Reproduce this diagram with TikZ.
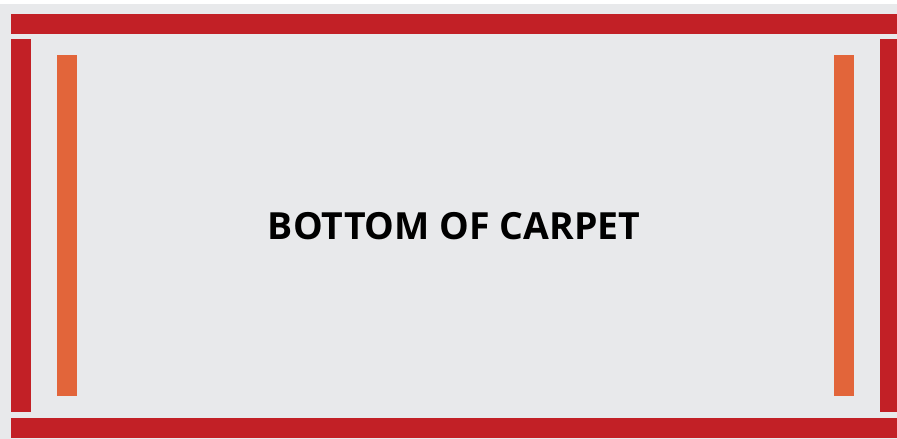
\documentclass[tikz,border=0pt]{standalone}
\usepackage{fontspec}
\setmainfont{Open Sans}
\definecolor{bg}{HTML}{E8E9EB}
\definecolor{rugred}{HTML}{C22026}
\definecolor{rugorange}{HTML}{E2653A}
\begin{document}
\begin{tikzpicture}[x=1pt,y=-1pt,
  redbar/.style={fill=rugred,draw=none},
  orangebar/.style={fill=rugorange,draw=none},
  lbl/.style={font=\bfseries\fontsize{37.4}{42}\selectfont,text=black,inner sep=0pt}]
\useasboundingbox (0,0) rectangle (897,439);
\fill[white] (0,0) rectangle (897,4);
\fill[bg] (0,4) rectangle (897,439);
\fill[redbar] (11,14) rectangle (897,34);
\fill[redbar] (11,418) rectangle (897,438);
\fill[redbar] (11,39) rectangle (31,412);
\fill[redbar] (880,39) rectangle (897,412);
\fill[orangebar] (57,55) rectangle (77,396);
\fill[orangebar] (834,55) rectangle (854,396);
\node[lbl] (title) at (454,226) {BOTTOM OF CARPET};
\end{tikzpicture}
\end{document}
